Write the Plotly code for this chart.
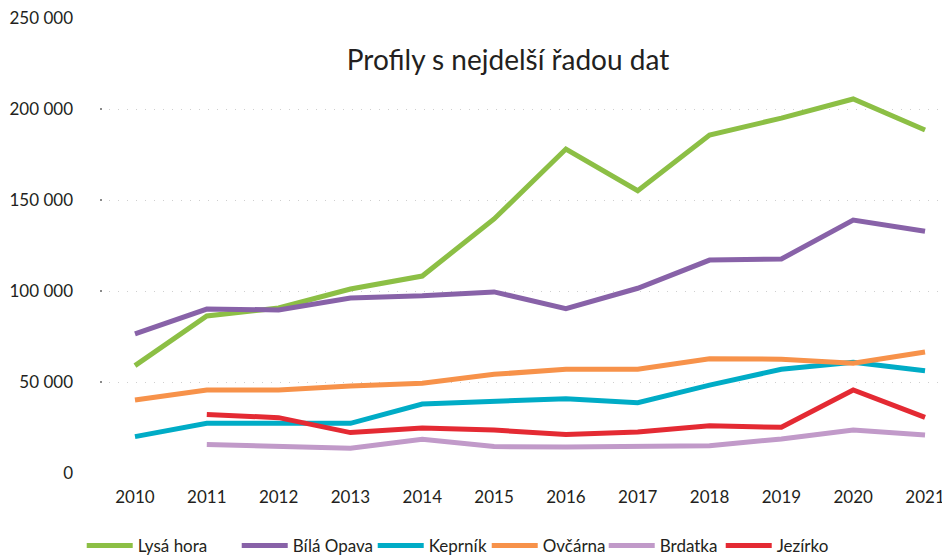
import plotly.graph_objects as go

years = [2010, 2011, 2012, 2013, 2014, 2015, 2016, 2017, 2018, 2019, 2020, 2021]

lysa_hora = [59000, 86300, 90700, 101100, 108200, 139600, 178000, 155100, 185700, 195000, 205500, 188500]
bila_opava = [76400, 90100, 89600, 96200, 97400, 99500, 90300, 101500, 117000, 117600, 139000, 132800]
keprnik = [20000, 27300, 27300, 27300, 37900, 39600, 40800, 38600, 48300, 57000, 60800, 56200]
ovcarna = [40100, 45600, 45600, 47800, 49300, 54200, 57000, 57000, 62800, 62500, 60300, 66500]
brdatka = [None, 15600, 14800, 13600, 18500, 14500, 14300, 14500, 15000, 18700, 23600, 20900]
jezirko = [None, 32200, 30400, 22200, 24700, 23600, 21200, 22500, 26000, 25100, 45600, 30600]

series_names = ["Lysá hora", "Bílá Opava", "Kepрník".replace("р", "r"), "Ovčárna", "Brdatka", "Jezírko"]
series_values = [lysa_hora, bila_opava, keprnik, ovcarna, brdatka, jezirko]
series_colors = ["#8cbf45", "#8862a8", "#00acc6", "#f7924a", "#c19ac9", "#e42a33"]
legend_widths = [94, 75, 53, 56, 56, 66]

title_text = "Profily s nejdelší řadou dat"

FONT = "Lato"
TXT = "#231f20"

fig = go.Figure()
for name, vals, col, lw in zip(series_names, series_values, series_colors, legend_widths):
    fig.add_trace(go.Scatter(
        x=years, y=vals, name=name, mode="lines",
        line=dict(color=col, width=5),
        connectgaps=False, legendwidth=lw,
    ))

fig.update_layout(
    width=950, height=556,
    paper_bgcolor="white", plot_bgcolor="white",
    margin=dict(l=92, r=0, t=10, b=91, autoexpand=False),
    separators=", ",
    font=dict(family=FONT, color=TXT, size=17),
    title=dict(text=title_text, x=500/950, xanchor="center", y=1-52/556, yanchor="middle",
               yref="container", font=dict(family=FONT, size=28, color=TXT)),
    xaxis=dict(range=[2009.513, 2021.459], dtick=1, tick0=2010, tickformat="d",
               showgrid=False, zeroline=False, showline=False, ticks="",
               ticklabelstandoff=12, tickfont=dict(size=17, color=TXT)),
    yaxis=dict(range=[0, 250000], dtick=50000, tickformat=",d",
               showgrid=True, gridcolor="#cfcfcf", gridwidth=1, griddash="1px,8px",
               zeroline=False, showline=False, ticks="inside", ticklen=2, tickwidth=2,
               tickcolor="#8a8a8a", ticklabelstandoff=26, ticklabeloverflow="allow",
               tickfont=dict(size=17, color=TXT)),
    showlegend=True,
    legend=dict(orientation="h", x=-0.0213, xanchor="left", y=-73/455, yanchor="middle",
                itemwidth=46, entrywidthmode="pixels",
                font=dict(size=17, color=TXT),
                bgcolor="rgba(0,0,0,0)", traceorder="normal"),
)

fig.write_html("out.html")
